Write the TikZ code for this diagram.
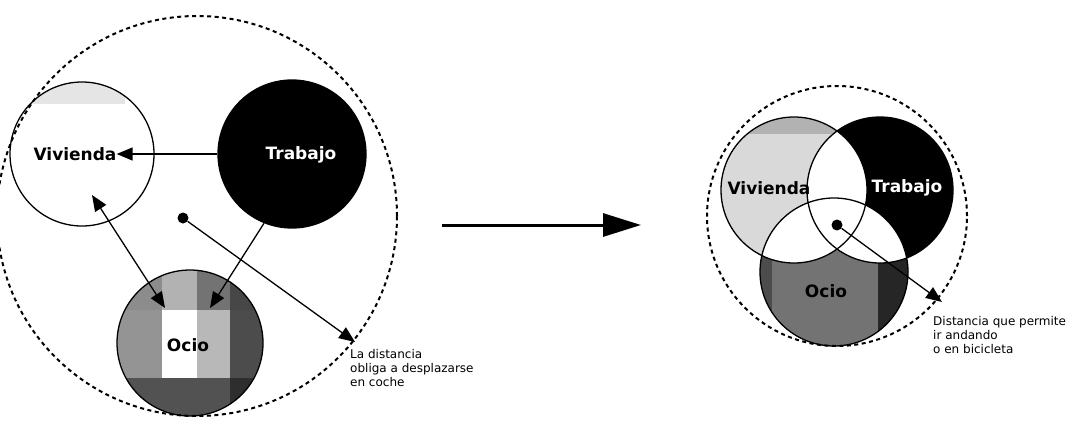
\documentclass[tikz,border=0pt]{standalone}
\usepackage{fontspec}
\setmainfont{DejaVu Sans}
\usetikzlibrary{arrows.meta,backgrounds}

\begin{document}
\begin{tikzpicture}[
    x=1pt, y=1pt,
    >={Triangle[length=16pt,width=13pt]},
    zone/.style={circle, draw, dash pattern=on 4pt off 3.5pt, line width=2pt, inner sep=0pt},
    place/.style={circle, draw, line width=1.3pt, inner sep=0pt},
    placelabel/.style={inner sep=0pt, font=\fontsize{17}{19}\selectfont\bfseries},
    note/.style={inner sep=0pt, align=left, anchor=north west, font=\fontsize{12}{14}\selectfont},
    spot/.style={circle, fill=black, inner sep=0pt, minimum size=11pt},
    link/.style={line width=1.3pt, ->},
    biglink/.style={line width=3pt, -{Triangle[length=38pt,width=23pt]}}
]

\useasboundingbox (0,0) rectangle (1075,-423);

% before: places far apart
\node[zone, minimum size=400pt] (zoneA) at (197,-216) {};
\node[place, minimum size=144pt] (vivA) at (82,-154) {};
\node[place, minimum size=148pt, fill=black] (trabA) at (292,-154) {};
\node[place, minimum size=146pt] (ocioA) at (190,-343) {};

\begin{scope}[on background layer]
  \begin{scope}
    \clip (vivA.center) circle (72);
    \fill[black!10] (25,-78) rectangle (125,-104);
  \end{scope}
  % mosaic in Ocio
  \begin{scope}
    \clip (ocioA.center) circle (73);
    \fill[black!60] (110,-265) rectangle (270,-420);
    \fill[black!45] (110,-265) rectangle (162,-310);
    \fill[black!30] (162,-265) rectangle (197,-310);
    \fill[black!55] (197,-265) rectangle (230,-310);
    \fill[black!72] (230,-265) rectangle (270,-310);
    \fill[black!42] (110,-310) rectangle (162,-378);
    \fill[white] (162,-310) rectangle (197,-378);
    \fill[black!28] (197,-310) rectangle (230,-378);
    \fill[black!70] (230,-310) rectangle (270,-378);
    \fill[black!68] (110,-378) rectangle (230,-420);
    \fill[black!82] (230,-378) rectangle (270,-420);
  \end{scope}
\end{scope}

\node[placelabel] (vivAlbl) at (75,-154) {Vivienda};
\node[placelabel, text=white] (trabAlbl) at (301,-155) {Trabajo};
\node[placelabel] (ocioAlbl) at (188,-345) {Ocio};

\coordinate (vivAend) at ([shift={(10,-41)}]vivA.center);
\coordinate (ocioAend1) at ([shift={(-25,35)}]ocioA.center);
\coordinate (ocioAend2) at ([shift={(20,35)}]ocioA.center);

\draw[link] (trabA.west) -- (vivAlbl.east);
\draw[link, <->] (vivAend) -- (ocioAend1);
\draw[link] (trabA.248) -- (ocioAend2);

\node[spot] (spotA) at (183,-218) {};
\node[note] (noteA) at (350,-349) {La distancia\\obliga a desplazarse\\en coche};
\draw[link] (spotA) -- ([shift={(5,7)}]noteA.north west);

% after: places overlapping
\node[zone, minimum size=260pt] (zoneB) at (837,-216) {};
\node[place, minimum size=146pt] (vivB) at (794,-190) {};
\node[place, minimum size=146pt] (trabB) at (880,-190) {};
\node[place, minimum size=148pt] (ocioB) at (834,-272) {};

\draw[biglink] ([shift={(44,-9)}]zoneA.east) -- ([shift={(-65,-9)}]zoneB.west);

\begin{scope}[on background layer]
  \fill[black!15] (vivB.center) circle (73);
  \begin{scope}
    \clip (vivB.center) circle (73);
    \fill[black!30] (700,-110) rectangle (880,-134);
  \end{scope}
  \fill[black] (trabB.center) circle (73);
  \begin{scope}
    \clip (ocioB.center) circle (74);
    \fill[black!55] (750,-190) rectangle (920,-350);
    \fill[black!70] (750,-190) rectangle (772,-350);
    \fill[black!85] (878,-190) rectangle (920,-350);
  \end{scope}
  % overlaps stay white
  \begin{scope}
    \clip (vivB.center) circle (73);
    \fill[white] (trabB.center) circle (73);
    \fill[white] (ocioB.center) circle (74);
  \end{scope}
  \begin{scope}
    \clip (trabB.center) circle (73);
    \fill[white] (ocioB.center) circle (74);
  \end{scope}
\end{scope}

\node[placelabel] (vivBlbl) at (769,-188) {Vivienda};
\node[placelabel, text=white] (trabBlbl) at (907,-188) {Trabajo};
\node[placelabel] (ocioBlbl) at (826,-291) {Ocio};

\node[spot] (spotB) at (837,-225) {};
\node[note] (noteB) at (933,-316) {Distancia que permite\\ir andando\\o en bicicleta};
\draw[link] (spotB) -- ([shift={(9,14)}]noteB.north west);

\end{tikzpicture}
\end{document}
